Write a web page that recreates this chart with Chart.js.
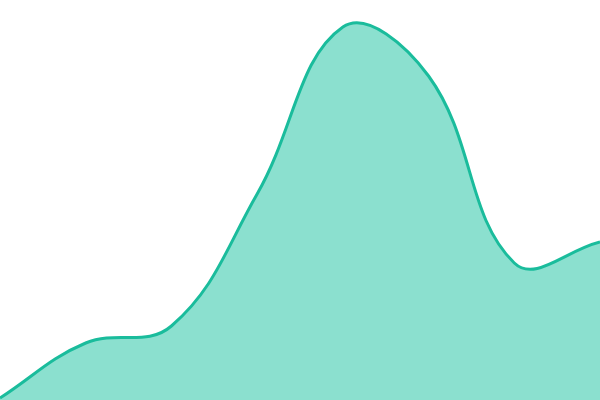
<!DOCTYPE html>
<html>
<head>
<meta charset="utf-8">
<script src="https://cdn.jsdelivr.net/npm/chart.js@4"></script>
<style>
  html, body { margin: 0; padding: 0; background: #fff; }
  #wrap { width: 600px; height: 400px; }
</style>
</head>
<body>
<div id="wrap"><canvas id="areaChart"></canvas></div>
<script>
// categories along x (no labels shown in the picture)
const labels = ['1', '2', '3', '4', '5', '6', '7', '8'];
// series values
const values = [2, 57, 74, 206, 373, 324, 137, 158];

const ctx = document.getElementById('areaChart').getContext('2d');

const areaChart = new Chart(ctx, {
  type: 'line',
  data: {
    labels: labels,
    datasets: [{
      data: values,
      borderColor: '#1abc9c',
      backgroundColor: '#8be0cf',
      borderWidth: 3,
      fill: 'start',
      tension: 0.4,
      pointRadius: 0
    }]
  },
  options: {
    responsive: true,
    maintainAspectRatio: false,
    animation: false,
    layout: { padding: 0 },
    plugins: {
      legend: { display: false },
      tooltip: { enabled: false }
    },
    scales: {
      x: { display: false, offset: false },
      y: { display: false, min: 0, max: 400 }
    }
  }
});
</script>
</body>
</html>
